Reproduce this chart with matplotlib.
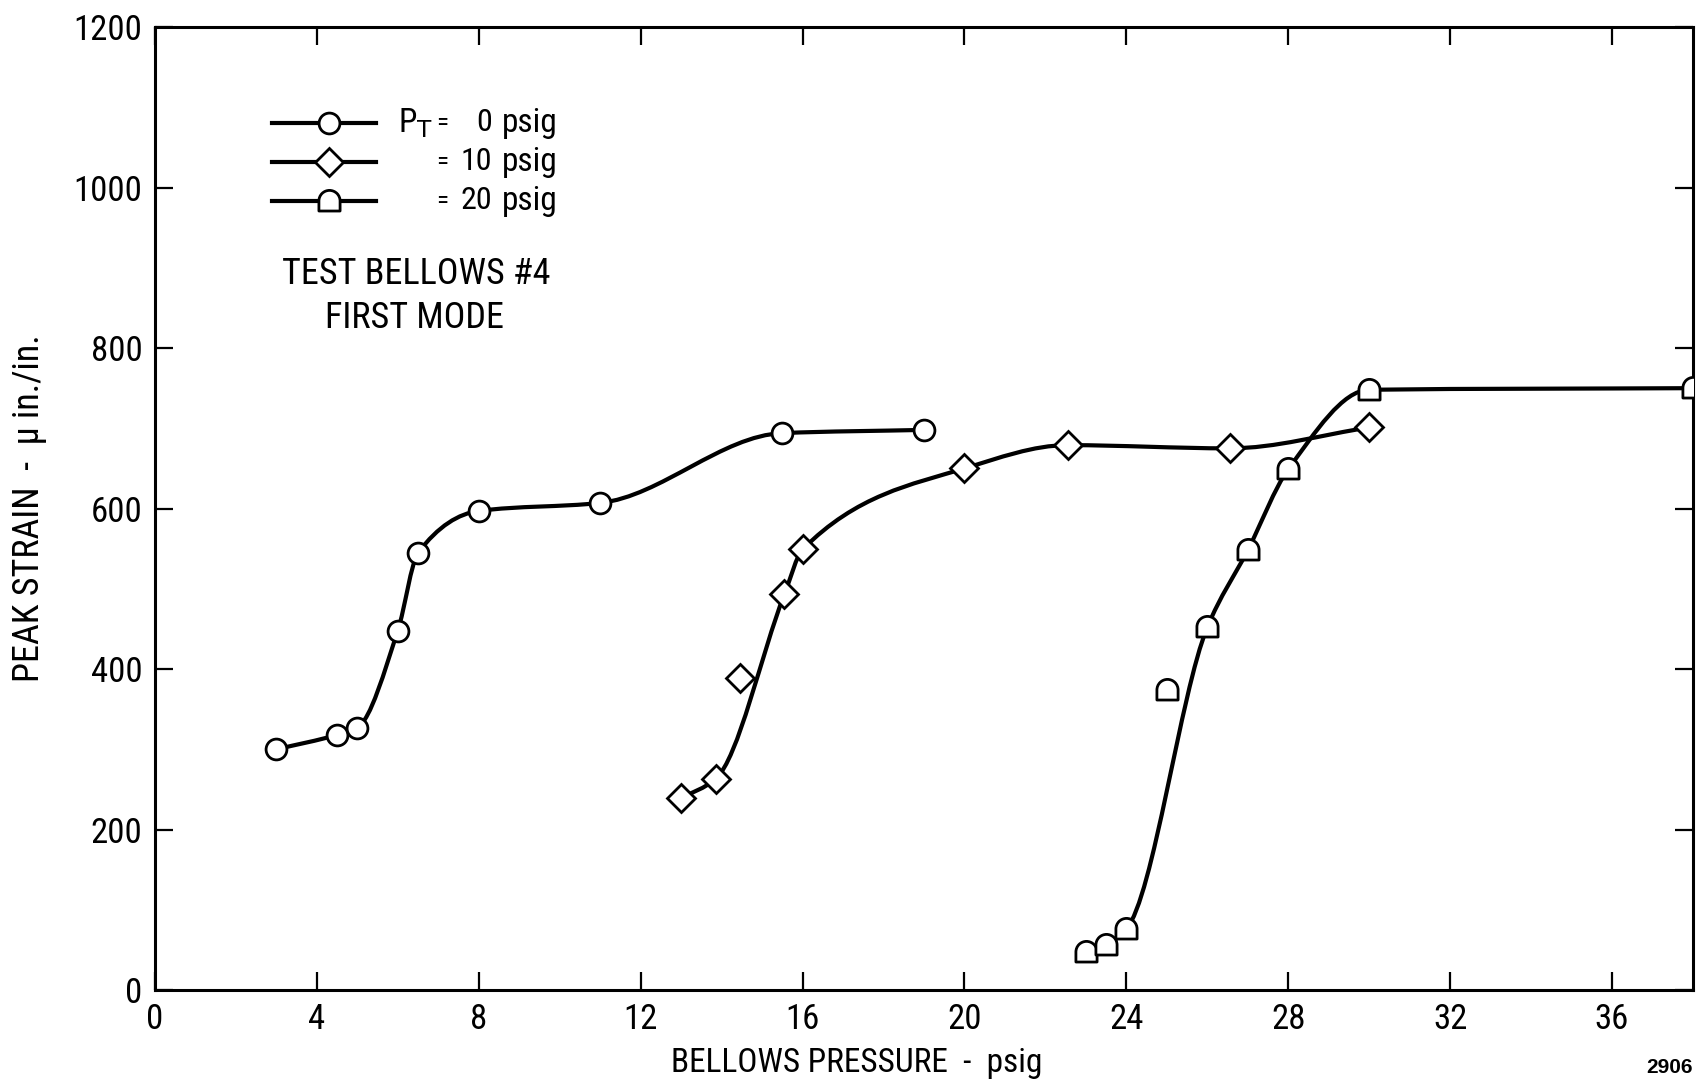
import numpy as np
import matplotlib
matplotlib.use('Agg')
import matplotlib.pyplot as plt
from matplotlib.path import Path
from matplotlib.patches import PathPatch

plt.rcParams['font.family'] = ['Roboto Condensed', 'Liberation Sans Narrow', 'Liberation Sans', 'DejaVu Sans']

# Peak strain readings, one set per tank pressure P_T
pt0_x = [3.0, 4.5, 5.0, 6.0, 6.5, 8.0, 11.0, 15.5, 19.0]
pt0_y = [300, 318, 327, 448, 545, 597, 607, 694, 698]

pt10_x = [13.0, 13.85, 14.45, 15.55, 16.0, 20.0, 22.55, 26.55, 30.0]
pt10_y = [239, 263, 389, 493, 549, 650, 679, 675, 701]
pt10_faired = [True, True, False, True, True, True, True, True, True]

pt20_x = [23.0, 23.5, 24.0, 25.0, 26.0, 27.0, 28.0, 30.0, 38.0]
pt20_y = [48, 56, 76, 374, 452, 548, 649, 748, 750]
pt20_faired = [True, True, True, False, True, True, True, True, True]

legend_labels = ['0', '10', '20']
x_ticks = [0, 4, 8, 12, 16, 20, 24, 28, 32, 36]
y_ticks = [0, 200, 400, 600, 800, 1000, 1200]


def dome_marker():
    # flat bottom, short straight sides, round top
    arc = Path.arc(0, 180)
    verts = [(-1, -0.9), (1, -0.9), (1, 0.05)] + [(v[0], v[1] + 0.05) for v in arc.vertices[1:]] + [(-1, -0.9)]
    codes = [Path.MOVETO, Path.LINETO, Path.LINETO] + list(arc.codes[1:]) + [Path.CLOSEPOLY]
    return Path(verts, codes)


def faired_curve(x, y, keep):
    # monotone cubic (Fritsch-Carlson) tangents turned into bezier segments
    x = np.asarray(x, float)[keep]
    y = np.asarray(y, float)[keep]
    h = np.diff(x)
    d = np.diff(y) / h
    n = len(x)
    m = np.zeros(n)
    for k in range(1, n - 1):
        if d[k - 1] * d[k] > 0:
            w1 = 2 * h[k] + h[k - 1]
            w2 = h[k] + 2 * h[k - 1]
            m[k] = (w1 + w2) / (w1 / d[k - 1] + w2 / d[k])
    m[0] = d[0]
    m[-1] = d[-1]
    verts = [(x[0], y[0])]
    codes = [Path.MOVETO]
    for k in range(n - 1):
        verts += [(x[k] + h[k] / 3, y[k] + m[k] * h[k] / 3),
                  (x[k + 1] - h[k] / 3, y[k + 1] - m[k + 1] * h[k] / 3),
                  (x[k + 1], y[k + 1])]
        codes += [Path.CURVE4] * 3
    return Path(verts, codes)


fig = plt.figure(figsize=(16.96, 10.82), dpi=100)
ax = fig.add_axes([0.0914, 0.085, 0.9068, 0.890])

line_kw = dict(color='black', lw=3.0, fill=False, capstyle='round', zorder=2)
mark_kw = dict(ls='none', mfc='white', mec='black', mew=2.0, zorder=3)

ax.add_patch(PathPatch(faired_curve(pt0_x, pt0_y, [True] * len(pt0_x)), **line_kw))
ax.add_patch(PathPatch(faired_curve(pt10_x, pt10_y, pt10_faired), **line_kw))
ax.add_patch(PathPatch(faired_curve(pt20_x, pt20_y, pt20_faired), **line_kw))

markers = ['o', 'D', dome_marker()]
sizes = [15, 14.5, 16]
ax.plot(pt0_x, pt0_y, marker=markers[0], ms=sizes[0], **mark_kw)
ax.plot(pt10_x, pt10_y, marker=markers[1], ms=sizes[1], **mark_kw)
ax.plot(pt20_x, pt20_y, marker=markers[2], ms=sizes[2], **mark_kw)

ax.set_xlim(0, 38)
ax.set_ylim(0, 1200)
ax.set_xticks(x_ticks)
ax.set_yticks(y_ticks)
ax.tick_params(direction='in', top=True, right=True, length=13, width=1.6,
               labelsize=25, pad=9)
for s in ax.spines.values():
    s.set_linewidth(2.2)

ax.set_xlabel('BELLOWS PRESSURE  -  psig', fontsize=24, va='center')
ax.xaxis.set_label_coords(0.456, -0.076)
ax.set_ylabel('PEAK STRAIN  -  μ in./in.', fontsize=26, va='center')
ax.yaxis.set_label_coords(-0.082, 0.5)

# key drawn by hand so the '=' signs line up
key_y = [0.9007, 0.860, 0.8195]
for i in range(3):
    ax.plot([0.076, 0.144], [key_y[i], key_y[i]], color='black', lw=3.0,
            transform=ax.transAxes, clip_on=False, zorder=2)
    ax.plot([0.113], [key_y[i]], marker=markers[i], ms=sizes[i],
            transform=ax.transAxes, clip_on=False, **mark_kw)
    ax.text(0.187, key_y[i], '=', fontsize=18, ha='center', va='center', transform=ax.transAxes)
    ax.text(0.219, key_y[i], legend_labels[i], fontsize=23, ha='right', va='center', transform=ax.transAxes)
    ax.text(0.2256, key_y[i], 'psig', fontsize=24, ha='left', va='center', transform=ax.transAxes)
ax.text(0.158, key_y[0], 'P$_\\mathrm{T}$', fontsize=24, ha='left', va='center', transform=ax.transAxes)

ax.text(0.170, 0.744, 'TEST BELLOWS #4', fontsize=26, ha='center', va='center', transform=ax.transAxes)
ax.text(0.169, 0.698, 'FIRST MODE', fontsize=26, ha='center', va='center', transform=ax.transAxes)

fig.text(0.998, 0.013, '2906', fontsize=15, fontweight='bold', ha='right', va='center',
         family=['Liberation Sans', 'DejaVu Sans'])

fig.savefig('out.png', dpi=100)
